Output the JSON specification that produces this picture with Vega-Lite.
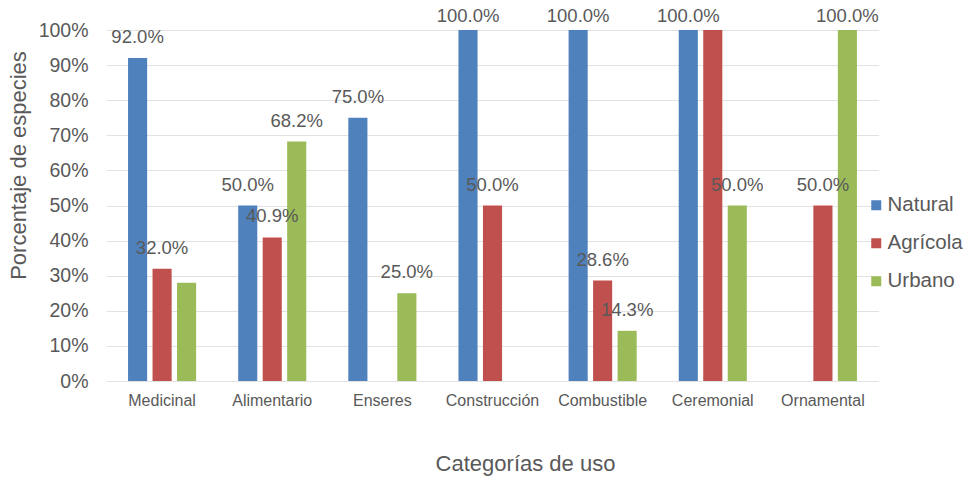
{
  "$schema": "https://vega.github.io/schema/vega-lite/v6.json",
  "width": 771,
  "height": 351,
  "autosize": {"type": "none"},
  "padding": {"left": 107, "top": 30, "right": 91, "bottom": 100},
  "background": "white",
  "config": {
    "view": {"stroke": null},
    "font": "Liberation Sans",
    "text": {"font": "Liberation Sans"}
  },
  "data": {
    "values": [
      {"categoria": "Medicinal", "zona": "Natural", "valor": 0.92, "etiqueta": true},
      {"categoria": "Medicinal", "zona": "Agrícola", "valor": 0.32, "etiqueta": true},
      {"categoria": "Medicinal", "zona": "Urbano", "valor": 0.28, "etiqueta": false},
      {"categoria": "Alimentario", "zona": "Natural", "valor": 0.5, "etiqueta": true},
      {"categoria": "Alimentario", "zona": "Agrícola", "valor": 0.409, "etiqueta": true},
      {"categoria": "Alimentario", "zona": "Urbano", "valor": 0.682, "etiqueta": true},
      {"categoria": "Enseres", "zona": "Natural", "valor": 0.75, "etiqueta": true},
      {"categoria": "Enseres", "zona": "Agrícola", "valor": 0, "etiqueta": false},
      {"categoria": "Enseres", "zona": "Urbano", "valor": 0.25, "etiqueta": true},
      {"categoria": "Construcción", "zona": "Natural", "valor": 1.0, "etiqueta": true},
      {"categoria": "Construcción", "zona": "Agrícola", "valor": 0.5, "etiqueta": true},
      {"categoria": "Construcción", "zona": "Urbano", "valor": 0, "etiqueta": false},
      {"categoria": "Combustible", "zona": "Natural", "valor": 1.0, "etiqueta": true},
      {"categoria": "Combustible", "zona": "Agrícola", "valor": 0.286, "etiqueta": true},
      {"categoria": "Combustible", "zona": "Urbano", "valor": 0.143, "etiqueta": true},
      {"categoria": "Ceremonial", "zona": "Natural", "valor": 1.0, "etiqueta": true},
      {"categoria": "Ceremonial", "zona": "Agrícola", "valor": 1.0, "etiqueta": false},
      {"categoria": "Ceremonial", "zona": "Urbano", "valor": 0.5, "etiqueta": true},
      {"categoria": "Ornamental", "zona": "Natural", "valor": 0, "etiqueta": false},
      {"categoria": "Ornamental", "zona": "Agrícola", "valor": 0.5, "etiqueta": true},
      {"categoria": "Ornamental", "zona": "Urbano", "valor": 1.0, "etiqueta": true}
    ]
  },
  "encoding": {
    "x": {
      "field": "categoria",
      "type": "nominal",
      "sort": ["Medicinal", "Alimentario", "Enseres", "Construcción", "Combustible", "Ceremonial", "Ornamental"],
      "scale": {"paddingInner": 0.333, "paddingOuter": 0.1667},
      "axis": {
        "title": "Categorías  de uso",
        "titleFontSize": 22,
        "titleFontWeight": "normal",
        "titleColor": "#595959",
        "titleX": 418,
        "titleY": 82,
        "titleAlign": "center",
        "titleBaseline": "middle",
        "labelAngle": 0,
        "labelFontSize": 16,
        "labelColor": "#595959",
        "labelPadding": 11,
        "ticks": false,
        "domain": false,
        "grid": false
      }
    },
    "xOffset": {
      "field": "zona",
      "type": "nominal",
      "sort": ["Natural", "Agrícola", "Urbano"],
      "scale": {"paddingInner": 0.22, "paddingOuter": 0.11}
    },
    "y": {
      "field": "valor",
      "type": "quantitative",
      "scale": {"domain": [0, 1]},
      "axis": {
        "title": "Porcentaje de especies",
        "titleFontSize": 22,
        "titleFontWeight": "normal",
        "titleColor": "#595959",
        "titleX": -89,
        "titleY": 135,
        "titleAngle": -90,
        "titleAlign": "center",
        "titleBaseline": "middle",
        "values": [0, 0.1, 0.2, 0.3, 0.4, 0.5, 0.6, 0.7, 0.8, 0.9, 1.0],
        "format": ".0%",
        "labelFontSize": 19.5,
        "labelColor": "#595959",
        "labelPadding": 19,
        "tickSize": 0,
        "ticks": false,
        "domain": false,
        "grid": true,
        "gridColor": "#c4c4c4",
        "gridDash": [1, 1],
        "gridWidth": 1
      }
    }
  },
  "layer": [
    {
      "mark": {"type": "bar"},
      "encoding": {
        "color": {
          "field": "zona",
          "type": "nominal",
          "scale": {
            "domain": ["Natural", "Agrícola", "Urbano"],
            "range": ["#4F81BD", "#C0504D", "#9BBB59"]
          },
          "legend": {
            "orient": "none",
            "legendX": 759,
            "legendY": 165,
            "title": null,
            "symbolType": "square",
            "symbolSize": 100,
            "symbolStrokeWidth": 0,
            "labelFontSize": 20.5,
            "labelColor": "#595959",
            "labelOffset": 1,
            "rowPadding": 17,
            "padding": 0
          }
        }
      }
    },
    {
      "transform": [{"filter": "datum.etiqueta && datum.valor < 1"}],
      "mark": {
        "type": "text",
        "baseline": "middle",
        "dy": -21,
        "fontSize": 18.5,
        "color": "#595959"
      },
      "encoding": {
        "text": {"field": "valor", "type": "quantitative", "format": ".1%"}
      }
    },
    {
      "transform": [{"filter": "datum.etiqueta && datum.valor >= 1"}],
      "mark": {
        "type": "text",
        "baseline": "middle",
        "dy": -14,
        "fontSize": 18.5,
        "color": "#595959"
      },
      "encoding": {
        "text": {"field": "valor", "type": "quantitative", "format": ".1%"}
      }
    }
  ]
}
